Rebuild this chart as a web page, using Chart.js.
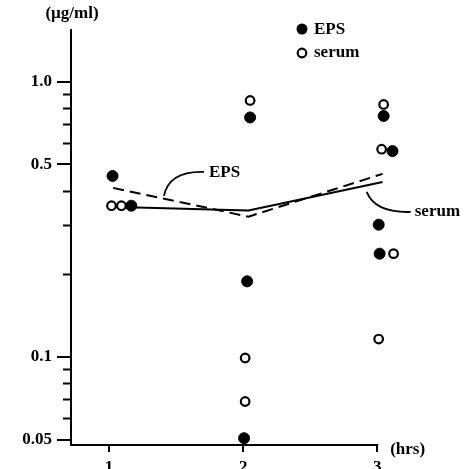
<!DOCTYPE html>
<html>
<head>
<meta charset="utf-8">
<script src="https://cdn.jsdelivr.net/npm/chart.js@4/dist/chart.umd.min.js"></script>
<style>
	html, body { margin: 0; padding: 0; background: #fff; }
	canvas { display: block; }
</style>
</head>
<body>
<canvas id="chart" width="467" height="469"></canvas>
<script>
// values (x = hrs, y = ug/ml)
const xTicks = [1, 2, 3];
const xAxisEnd = 3;
const yMajor = [0.05, 0.1, 0.5, 1.0];
const yMinor = [0.06, 0.07, 0.08, 0.09, 0.2, 0.3, 0.4, 0.6, 0.7, 0.8, 0.9];
const yLabels = { 0.05: '0.05', 0.1: '0.1', 0.5: '0.5', 1: '1.0' };

const epsX = [1.026, 1.166, 2.052, 2.03, 2.007, 3.048, 3.114, 3.011, 3.018];
const epsY = [0.454, 0.354, 0.741, 0.188, 0.0506, 0.75, 0.559, 0.302, 0.237];
const serumX = [1.018, 1.092, 2.052, 2.015, 2.015, 3.048, 3.033, 3.122, 3.011];
const serumY = [0.354, 0.354, 0.854, 0.099, 0.0688, 0.826, 0.568, 0.237, 0.116];

const epsMeanX = [1.03, 2.04, 3.04];
const epsMeanY = [0.411, 0.323, 0.462];
const serumMeanX = [1.0, 2.04, 3.04];
const serumMeanY = [0.351, 0.34, 0.432];

const FONT = 'bold 17px "Liberation Serif", "DejaVu Serif", serif';

function pts(xs, ys) {
	return xs.map((x, i) => ({ x: x, y: ys[i] }));
}

const extras = {
	id: 'extras',
	afterDraw(chart) {
		const ctx = chart.ctx;
		const x = chart.scales.x;
		const y = chart.scales.y;
		const area = chart.chartArea;
		ctx.save();
		ctx.strokeStyle = '#000';
		ctx.fillStyle = '#000';

		// x axis line stops at 3 hrs, points may sit past it
		const xEnd = x.getPixelForValue(xAxisEnd);
		ctx.lineWidth = 2;
		ctx.beginPath();
		ctx.moveTo(area.left - 1, area.bottom);
		ctx.lineTo(xEnd + 1, area.bottom);
		ctx.stroke();

		// short minor ticks on the y axis
		yMinor.forEach(v => {
			const py = Math.round(y.getPixelForValue(v)) + 0.5;
			ctx.beginPath();
			ctx.moveTo(area.left - 8, py);
			ctx.lineTo(area.left, py);
			ctx.stroke();
		});

		ctx.font = FONT;
		ctx.textBaseline = 'middle';

		// axis titles
		ctx.textAlign = 'center';
		ctx.fillText('(µg/ml)', 72, 14);
		ctx.textAlign = 'left';
		ctx.fillText('(hrs)', xEnd + 13, area.bottom + 5);

		// legend
		ctx.beginPath();
		ctx.arc(302, 29, 5.5, 0, Math.PI * 2);
		ctx.fill();
		ctx.lineWidth = 2.2;
		ctx.beginPath();
		ctx.arc(302, 53, 4.3, 0, Math.PI * 2);
		ctx.stroke();
		ctx.fillText('EPS', 314, 30);
		ctx.fillText('serum', 314, 53);

		// EPS callout
		let tx = x.getPixelForValue(1.745);
		let ty = y.getPixelForValue(0.466);
		ctx.fillText('EPS', tx, ty);
		ctx.lineWidth = 1.8;
		ctx.beginPath();
		ctx.moveTo(tx - 5, ty - 1);
		ctx.quadraticCurveTo(tx - 40, ty - 2, tx - 45, ty + 23);
		ctx.stroke();

		// serum callout
		tx = x.getPixelForValue(3.28);
		ty = y.getPixelForValue(0.336);
		ctx.fillText('serum', tx, ty);
		ctx.beginPath();
		ctx.moveTo(tx - 4, ty);
		ctx.quadraticCurveTo(tx - 40, ty + 1, tx - 48, ty - 20);
		ctx.stroke();

		ctx.restore();
	}
};

new Chart(document.getElementById('chart'), {
	type: 'scatter',
	data: {
		datasets: [
			{
				label: 'EPS',
				data: pts(epsX, epsY),
				pointStyle: 'circle',
				pointRadius: 5.5,
				backgroundColor: '#000',
				borderColor: '#000',
				borderWidth: 1,
				clip: false,
				order: 1
			},
			{
				label: 'serum',
				data: pts(serumX, serumY),
				pointStyle: 'circle',
				pointRadius: 4.3,
				backgroundColor: '#fff',
				borderColor: '#000',
				borderWidth: 2.2,
				clip: false,
				order: 1
			},
			{
				label: 'EPS mean',
				data: pts(epsMeanX, epsMeanY),
				showLine: true,
				pointRadius: 0,
				borderColor: '#000',
				borderWidth: 2,
				borderDash: [11, 6],
				fill: false,
				clip: false,
				order: 2
			},
			{
				label: 'serum mean',
				data: pts(serumMeanX, serumMeanY),
				showLine: true,
				pointRadius: 0,
				borderColor: '#000',
				borderWidth: 2,
				fill: false,
				clip: false,
				order: 2
			}
		]
	},
	options: {
		responsive: false,
		animation: false,
		layout: { padding: { top: 30, right: 65, left: 0, bottom: 0 } },
		plugins: {
			legend: { display: false },
			tooltip: { enabled: false }
		},
		scales: {
			x: {
				type: 'linear',
				min: 0.716,
				max: 3.185,
				afterBuildTicks: scale => { scale.ticks = xTicks.map(v => ({ value: v })); },
				afterFit: scale => { scale.height = 24; },
				ticks: {
					color: '#000',
					padding: 5,
					font: { family: '"Liberation Serif", serif', size: 17, weight: 'bold' },
					callback: v => String(v)
				},
				grid: { drawOnChartArea: false, tickLength: 7, color: '#000', lineWidth: 2 },
				border: { display: false }
			},
			y: {
				type: 'logarithmic',
				min: 0.0478,
				max: 1.54,
				afterBuildTicks: scale => {
					scale.ticks = yMajor.map(v => ({ value: v }));
				},
				afterFit: scale => { scale.width = 71; },
				ticks: {
					color: '#000',
					padding: 5,
					autoSkip: false,
					font: { family: '"Liberation Serif", serif', size: 17, weight: 'bold' },
					callback: v => yLabels[v] || ''
				},
				grid: { drawOnChartArea: false, tickLength: 14, color: '#000', lineWidth: 2 },
				border: { color: '#000', width: 2 }
			}
		}
	},
	plugins: [extras]
});
</script>
</body>
</html>
